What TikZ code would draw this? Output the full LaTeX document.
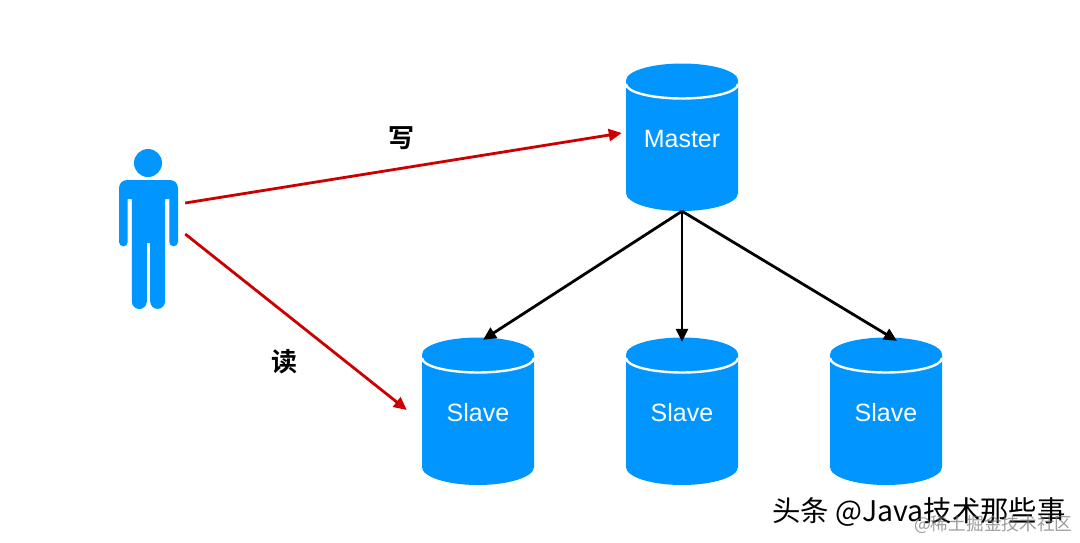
\documentclass[tikz,border=0pt]{standalone}
\usepackage{fontspec}
\setmainfont{Liberation Sans}
\newfontfamily\cjk{Noto Sans CJK SC}
\newfontfamily\cjkb{Noto Sans CJK SC Bold}
\usetikzlibrary{arrows.meta,calc}
\definecolor{dbblue}{HTML}{0095FF}
\definecolor{redline}{HTML}{CC0000}
\tikzset{
  dblabel/.style={text=white,font=\fontsize{25}{28}\selectfont,minimum width=112pt,minimum height=147pt,inner sep=0pt},
  redarrow/.style={draw=redline,line width=2.8pt,-{Triangle[length=13pt,width=12pt]}},
  blackarrow/.style={draw=black,line width=2.8pt,-{Triangle[length=13pt,width=12pt]}},
  cjklabel/.style={font=\cjkb\fontsize{26}{28}\selectfont,inner sep=0pt},
  wm/.style={font=\cjk\fontsize{28.4}{30}\selectfont,inner sep=0pt,anchor=west},
  wmgray/.style={font=\cjk\fontsize{17.7}{20}\selectfont,inner sep=0pt,anchor=west,text=black!55,text opacity=.7}
}
\newcommand{\dbcyl}[4]{%
  \begin{scope}[shift={(#2,#3)}]
    \fill[dbblue] (-56,-57) arc[start angle=180,end angle=360,x radius=56,y radius=17]
      -- (56,55.5) arc[start angle=0,end angle=180,x radius=56,y radius=18] -- cycle;
    \draw[white,line width=2.4pt] (-56,-53.5) arc[start angle=180,end angle=0,x radius=56,y radius=14.5];
  \end{scope}
  \node[dblabel] (#1) at (#2,#3) {\raisebox{-10pt}[0pt][0pt]{#4}};
}
\begin{document}
\begin{tikzpicture}[x=1pt,y=-1pt]
\useasboundingbox (0,0) rectangle (1080,542);
\fill[white] (0,0) rectangle (1080,542);
% person
\node[minimum width=59pt,minimum height=159pt,inner sep=0pt] (person) at (148.5,229.5) {};
\fill[dbblue] (148,163) circle[radius=14];
\fill[dbblue] (127,180) -- (170,180) arc[start angle=270,end angle=360,radius=8]
  -- (178,242) arc[start angle=0,end angle=180,radius=4.35]
  -- (169.3,199) -- (165,199) -- (165,301.5) arc[start angle=0,end angle=180,radius=7.4]
  -- (150.2,243) -- (146.8,243) -- (146.8,301.5) arc[start angle=0,end angle=180,radius=7.5]
  -- (131.8,199) -- (127.7,199) -- (127.7,242) arc[start angle=0,end angle=180,radius=4.35]
  -- (119,188) arc[start angle=180,end angle=270,radius=8] -- cycle;
% cylinders
\dbcyl{master}{682}{137.5}{Master}
\dbcyl{slaveA}{478}{411.5}{Slave}
\dbcyl{slaveB}{682}{411.5}{Slave}
\dbcyl{slaveC}{886}{411.5}{Slave}
% connector anchors
\coordinate (wfrom) at ($(person.east)+(7,-26.5)$);
\coordinate (rfrom) at ($(person.east)+(7,4.5)$);
\coordinate (wto) at ($(master.west)+(-4,-4.5)$);
\coordinate (rto) at ($(slaveA.west)+(-15,-1.5)$);
\coordinate (mfrom) at (master.south);
\coordinate (toA) at ($(slaveA.north)+(5,2)$);
\coordinate (toB) at ($(slaveB.north)+(0,4)$);
\coordinate (toC) at ($(slaveC.north)+(11,3)$);
\draw[redarrow] (wfrom) -- (wto);
\draw[redarrow] (rfrom) -- (rto);
\draw[blackarrow] (mfrom) -- (toA);
\draw[blackarrow] (mfrom) -- (toB);
\draw[blackarrow] (mfrom) -- (toC);
% labels
\node[cjklabel] (wlabel) at (401,138.5) {写};
\node[cjklabel] (rlabel) at (284,361.5) {读};
\node[wm] (wmark) at (772,512) {头条 @Java技术那些事};
\node[wmgray] (wmark2) at (914,525) {@稀土掘金技术社区};
\end{tikzpicture}
\end{document}
